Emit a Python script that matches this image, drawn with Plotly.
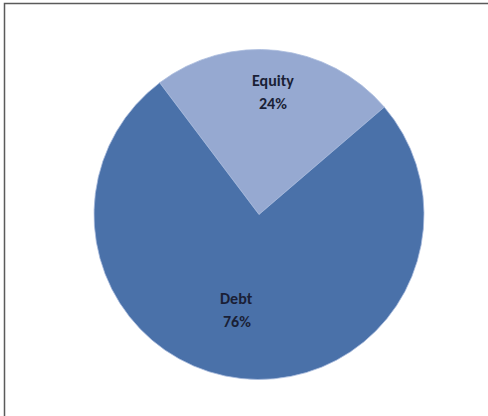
import plotly.graph_objects as go

# Capital structure split
categories = ["Equity", "Debt"]
shares = [24, 76]
slice_colors = ["#96A9D1", "#4A71A9"]

W, H = 488, 416

fig = go.Figure()
fig.add_trace(go.Pie(
    labels=categories,
    values=shares,
    sort=False,
    direction="clockwise",
    rotation=-37,
    marker=dict(colors=slice_colors, line=dict(color="#A9BBDD", width=0.8)),
    textinfo="none",
    hoverinfo="label+percent",
    showlegend=False,
    domain=dict(x=[94 / W, 424 / W], y=[1 - 379.5 / H, 1 - 49.5 / H]),
))

# Category and percentage labels placed on each slice
label_spots = {"Equity": ((273, 80), (273, 103)), "Debt": ((236, 298), (237, 321))}
total = sum(shares)
annotations = []
for name, val in zip(categories, shares):
    (nx, ny), (px, py) = label_spots[name]
    for txt, (x, y) in ((name, (nx, ny)), (f"{round(100 * val / total)}%", (px, py))):
        annotations.append(dict(
            x=x / W, y=1 - y / H, xref="paper", yref="paper",
            text=f"<b>{txt}</b>", showarrow=False,
            font=dict(family="Carlito, Calibri, Liberation Sans, Arial", size=16, color="#1A1F36"),
            xanchor="center", yanchor="middle",
        ))

fig.update_layout(
    width=W, height=H,
    margin=dict(l=0, r=0, t=0, b=0),
    paper_bgcolor="white",
    plot_bgcolor="white",
    annotations=annotations,
    shapes=[dict(
        type="rect", xref="paper", yref="paper",
        x0=4.5 / W, x1=1.1, y0=-0.1, y1=1 - 3.5 / H,
        line=dict(color="#5A5A5A", width=1.5), fillcolor="rgba(0,0,0,0)",
    )],
)

fig.write_html("out.html")
